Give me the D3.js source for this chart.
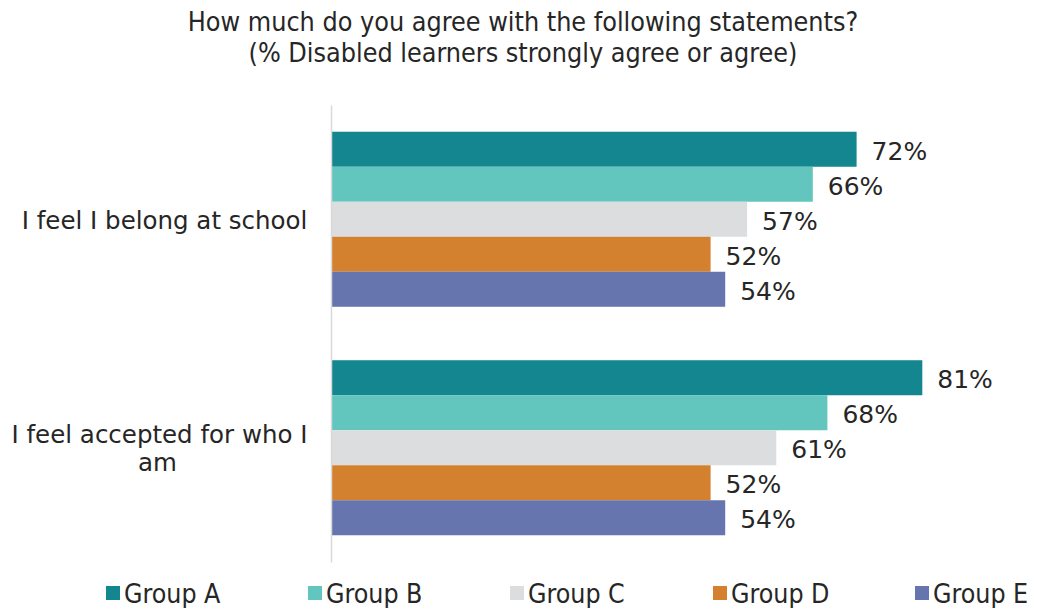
<!DOCTYPE html>
<html>
<head>
<meta charset="utf-8">
<script src="https://cdn.jsdelivr.net/npm/d3@7"></script>
<style>
  html, body { margin: 0; padding: 0; background: #ffffff; }
  svg { display: block; }
</style>
</head>
<body>
<svg id="chart" width="1039" height="608"></svg>
<script>
// Survey statements (y categories)
const statements = ["I feel I belong at school", "I feel accepted for who I am"];
// Respondent groups (series)
const groups = ["Group A", "Group B", "Group C", "Group D", "Group E"];
// % strongly agree or agree, one array per group, in statement order
const groupA = [72, 81];
const groupB = [66, 68];
const groupC = [57, 61];
const groupD = [52, 52];
const groupE = [54, 54];
const seriesValues = [groupA, groupB, groupC, groupD, groupE];
const groupColors = ["#148690", "#62c5be", "#dcdddf", "#d3812f", "#6675ae"];
const titleLines = [
  "How much do you agree with the following statements?",
  "(% Disabled learners strongly agree or agree)"
];

const condensed = "'DejaVu Sans Condensed', 'DejaVu Sans', sans-serif";
const regular = "'DejaVu Sans', sans-serif";
const textColor = "#262626";

const svg = d3.select("#chart");
const margin = { top: 105, left: 331, bottom: 46 };
const plotBottom = 608 - margin.bottom;

const x = d3.scaleLinear().domain([0, 100]).range([margin.left, margin.left + 730]);
const y = d3.scaleBand().domain(statements).range([margin.top, plotBottom]).paddingInner(0.234).paddingOuter(0.117);
const yInner = d3.scaleBand().domain(groups).range([0, y.bandwidth()]);
const color = d3.scaleOrdinal().domain(groups).range(groupColors);

// Title
svg.append("g")
  .selectAll("text")
  .data(titleLines)
  .join("text")
  .attr("x", 523)
  .attr("y", (d, i) => 31 + i * 31)
  .attr("text-anchor", "middle")
  .attr("font-family", condensed)
  .attr("font-size", 26.7)
  .attr("fill", textColor)
  .text(d => d);

// Bars
const rows = statements.flatMap((s, si) =>
  groups.map((g, gi) => ({ statement: s, group: g, value: seriesValues[gi][si] })));

const barG = svg.append("g");
barG.selectAll("rect")
  .data(rows)
  .join("rect")
  .attr("x", x(0))
  .attr("y", d => y(d.statement) + yInner(d.group))
  .attr("width", d => x(d.value) - x(0))
  .attr("height", yInner.bandwidth())
  .attr("fill", d => color(d.group));

// Value labels
barG.selectAll("text")
  .data(rows)
  .join("text")
  .attr("x", d => x(d.value) + 15)
  .attr("y", d => y(d.statement) + yInner(d.group) + yInner.bandwidth() / 2)
  .attr("dy", "0.42em")
  .attr("font-family", regular)
  .attr("font-size", 25)
  .attr("fill", textColor)
  .text(d => d.value + "%");

// Category axis
const yAxis = svg.append("g")
  .attr("transform", `translate(${margin.left},0)`)
  .call(d3.axisLeft(y).tickSize(0).tickPadding(0));
yAxis.select(".domain").attr("stroke", "#d9d9d9").attr("stroke-width", 1.5);
yAxis.selectAll(".tick text").remove();

// Wrapped category labels; each line carries its own horizontal centre
const labelLines = {
  "I feel I belong at school": [{ text: "I feel I belong at school", cx: -166.5 }],
  "I feel accepted for who I am": [{ text: "I feel accepted for who I", cx: -171.5 }, { text: "am", cx: -173.5 }]
};
yAxis.selectAll(".tick").each(function(d) {
  const lines = labelLines[d];
  const t = d3.select(this).append("text")
    .attr("text-anchor", "middle")
    .attr("font-family", regular)
    .attr("font-size", 24.5)
    .attr("fill", textColor);
  lines.forEach((line, i) => {
    t.append("tspan")
      .attr("x", line.cx)
      .attr("y", (i - (lines.length - 1) / 2) * 28 + 1)
      .attr("dy", "0.35em")
      .text(line.text);
  });
});

// Legend
const legendX = [106, 308, 510, 713, 915];
const legend = svg.append("g")
  .selectAll("g")
  .data(groups)
  .join("g")
  .attr("transform", (d, i) => `translate(${legendX[i]},593)`);
legend.append("rect")
  .attr("x", 0).attr("y", -7).attr("width", 14).attr("height", 14)
  .attr("fill", d => color(d));
legend.append("text")
  .attr("x", 18)
  .attr("dy", "0.36em")
  .attr("font-family", condensed)
  .attr("font-size", 26.5)
  .attr("fill", textColor)
  .text(d => d);
</script>
</body>
</html>
